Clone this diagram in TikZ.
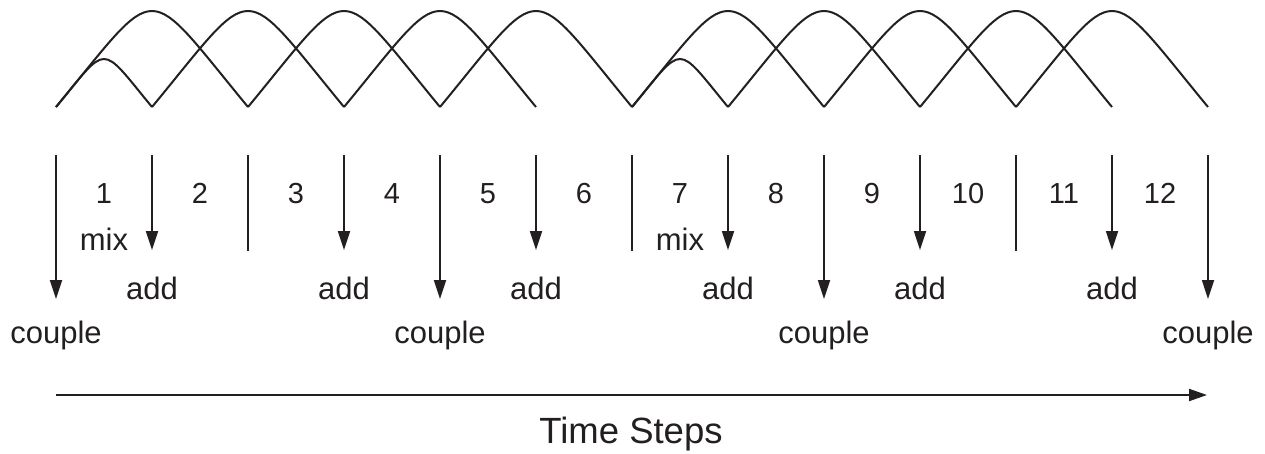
\documentclass[tikz,border=0pt]{standalone}
\usepackage{fontspec}
\setmainfont{Liberation Sans}
\usetikzlibrary{arrows.meta}
\definecolor{ink}{HTML}{231F20}
\tikzset{
  wave/.style={draw=ink, line width=2pt, line join=round},
  evarrow/.style={draw=ink, line width=1.8pt, -{Triangle[length=19pt,width=12pt]}},
  sepbar/.style={draw=ink, line width=1.8pt},
  timearrow/.style={draw=ink, line width=2pt, -{Triangle[length=18pt,width=12pt]}},
  numlbl/.style={anchor=base, inner sep=0pt, text=ink, font=\fontsize{29}{34}\selectfont},
  oplbl/.style={anchor=base, inner sep=0pt, text=ink, font=\fontsize{31}{37}\selectfont},
  axislbl/.style={anchor=base, inner sep=0pt, text=ink, font=\fontsize{36.5}{44}\selectfont}
}
\begin{document}
\begin{tikzpicture}[x=1pt, y=-1pt]
\useasboundingbox (0,0) rectangle (1265,453);

% waves: big arches
\foreach \s in {56,152,248,344,440,632,728,824,920,1016} {
  \draw[wave] (\s,107) .. controls ({\s+105.6},-21) and ({\s+86.4},-21) .. ({\s+192},107);
}
% small arches
\foreach \s in {56,632} {
  \draw[wave] (\s,107) .. controls ({\s+52.8},43) and ({\s+43.2},43) .. ({\s+96},107);
}

% couple arrows
\foreach \i/\x in {1/56,2/440,3/824,4/1208} {
  \coordinate (ct\i) at (\x,155);
  \coordinate (cb\i) at (\x,299);
  \draw[evarrow] (ct\i) -- (cb\i);
  \node[oplbl] (couple\i) at (\x,343) {couple};
}
% add arrows
\foreach \i/\x in {1/152,2/344,3/536,4/728,5/920,6/1112} {
  \coordinate (at\i) at (\x,155);
  \coordinate (ab\i) at (\x,250);
  \draw[evarrow] (at\i) -- (ab\i);
  \node[oplbl] (add\i) at (\x,299) {add};
}
% separator bars
\foreach \i/\x in {1/248,2/632,3/1016} {
  \coordinate (bt\i) at (\x,155);
  \coordinate (bb\i) at (\x,251);
  \draw[sepbar] (bt\i) -- (bb\i);
}
% step numbers
\foreach \k in {1,...,12} {
  \node[numlbl] (n\k) at ({104+96*(\k-1)},203) {\k};
}
% mix labels
\node[oplbl] (mix1) at (104,250) {mix};
\node[oplbl] (mix2) at (680,250) {mix};

% time axis
\coordinate (ts) at (56,395);
\coordinate (te) at (1207,395);
\draw[timearrow] (ts) -- (te);
\node[axislbl] (title) at (631,443) {Time Steps};
\end{tikzpicture}
\end{document}
